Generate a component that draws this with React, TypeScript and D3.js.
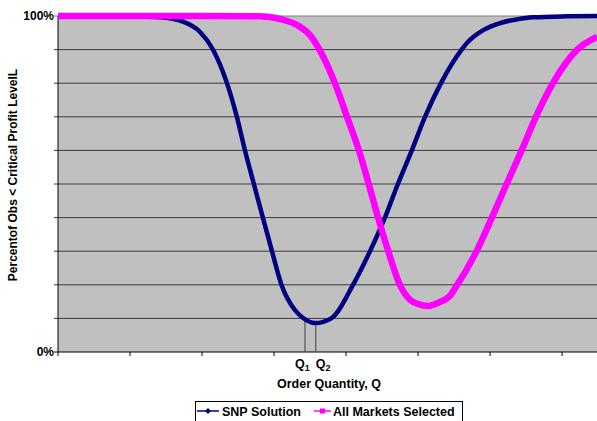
import React from 'react';
import * as d3 from 'd3';

// Order quantity (arbitrary units, one x tick every 200) and percent of obs below critical level
const snpQ = [0, 172, 283, 347, 394, 431, 469, 497, 519, 544, 569, 594, 621, 658, 681, 714, 760, 819, 867, 908, 944, 983, 1019, 1064, 1121, 1136, 1181, 1228, 1275, 1319, 1414, 1497];
const snpPct = [100, 100, 99.6, 98.3, 95.3, 89.9, 80.1, 69.9, 60.1, 50, 40, 30.1, 19.9, 12.5, 10.1, 8.6, 10.1, 19.9, 30.1, 40, 50, 60.1, 69.9, 80.1, 90, 92, 95.8, 97.9, 99, 99.6, 99.9, 100];

const allQ = [0, 394, 561, 617, 664, 700, 725, 772, 803, 837, 863, 889, 917, 950, 978, 1000, 1028, 1061, 1089, 1103, 1163, 1205, 1246, 1288, 1327, 1375, 1442, 1497];
const allPct = [100, 100, 99.9, 99.1, 97.3, 94.3, 90.2, 79.2, 69.9, 59.6, 50, 40, 30.1, 19.9, 15.5, 14.3, 13.7, 14.9, 16.8, 19.0, 30.1, 40, 50, 60.1, 69.9, 80.1, 90, 93.8];

const qMarkX = [686, 716];
const qMarkPct = [10.3, 8.6];
const qMarkSub = ['1', '2'];

const xTicks = [0, 200, 400, 600, 800, 1000, 1200, 1400];
const yGrid = [10, 20, 30, 40, 50, 60, 70, 80, 90, 100];

const font = '"Liberation Sans", Arial, sans-serif';

export default function App() {
  const W = 597;
  const H = 421;
  const x = d3.scaleLinear().domain([0, 1497]).range([58, 597]);
  const y = d3.scaleLinear().domain([0, 100]).range([352, 16]);

  const line = d3
    .line<[number, number]>()
    .x((d) => x(d[0]))
    .y((d) => y(d[1]))
    .curve(d3.curveMonotoneX);

  const snp = snpQ.map((q, i) => [q, snpPct[i]] as [number, number]);
  const all = allQ.map((q, i) => [q, allPct[i]] as [number, number]);

  const x0 = x(0);
  const x1 = x(1497);
  const y0 = y(0);

  return (
    <svg width={W} height={H} style={{ position: 'absolute', left: 0, top: 0 }} fontFamily={font}>
      <rect x={x0} y={y(100)} width={x1 - x0} height={y0 - y(100)} fill="#C0C0C0" />
      {yGrid.map((v) => (
        <line key={v} x1={x0 - 4} x2={x1} y1={y(v)} y2={y(v)} stroke={v === 100 ? '#808080' : '#3a3a3a'} strokeWidth={1} />
      ))}
      <line x1={x0} x2={x0} y1={y(100)} y2={y0} stroke="#000" />
      <line x1={x0 - 4} x2={x1} y1={y0} y2={y0} stroke="#000" />
      {xTicks.map((t) => (
        <line key={t} x1={x(t)} x2={x(t)} y1={y0} y2={y0 + 4} stroke="#000" />
      ))}

      {qMarkX.map((q, i) => (
        <line key={q} x1={x(q)} x2={x(q)} y1={y(qMarkPct[i])} y2={y0} stroke="#404040" strokeWidth={1} />
      ))}

      <path d={line(snp) || ''} fill="none" stroke="#000080" strokeWidth={4.5} strokeLinejoin="round" />
      <path d={line(all) || ''} fill="none" stroke="#FF00FF" strokeWidth={6.5} strokeLinejoin="round" />

      <text x={54} y={y(100) + 4} textAnchor="end" fontSize={12} fontWeight="bold">100%</text>
      <text x={54} y={y0 + 4} textAnchor="end" fontSize={12} fontWeight="bold">0%</text>

      <text transform={`translate(17,175) rotate(-90)`} textAnchor="middle" fontSize={12} fontWeight="bold">
        Percentof Obs &lt; Critical Profit LevelL
      </text>

      {qMarkX.map((q, i) => (
        <text key={q} x={x(q) - 10 + i * 10} y={368} fontSize={12.5} fontWeight="bold">
          Q<tspan fontSize={9} dy={3}>{qMarkSub[i]}</tspan>
        </text>
      ))}

      <text x={329} y={388} textAnchor="middle" fontSize={12.5} fontWeight="bold">Order Quantity, Q</text>

      <g>
        <rect x={195.5} y={401.5} width={267} height={30} fill="#fff" stroke="#000" />
        <line x1={197} x2={219} y1={411} y2={411} stroke="#000080" strokeWidth={1.5} />
        <path d="M208,408 L211,411 L208,414 L205,411 Z" fill="#000080" />
        <text x={222} y={416} fontSize={12.5} fontWeight="bold">SNP Solution</text>
        <line x1={314} x2={331} y1={411} y2={411} stroke="#FF00FF" strokeWidth={1.5} />
        <rect x={320} y={408.5} width={5} height={5} fill="#FF00FF" />
        <text x={333} y={416} fontSize={12.5} fontWeight="bold">All Markets Selected</text>
      </g>
    </svg>
  );
}
